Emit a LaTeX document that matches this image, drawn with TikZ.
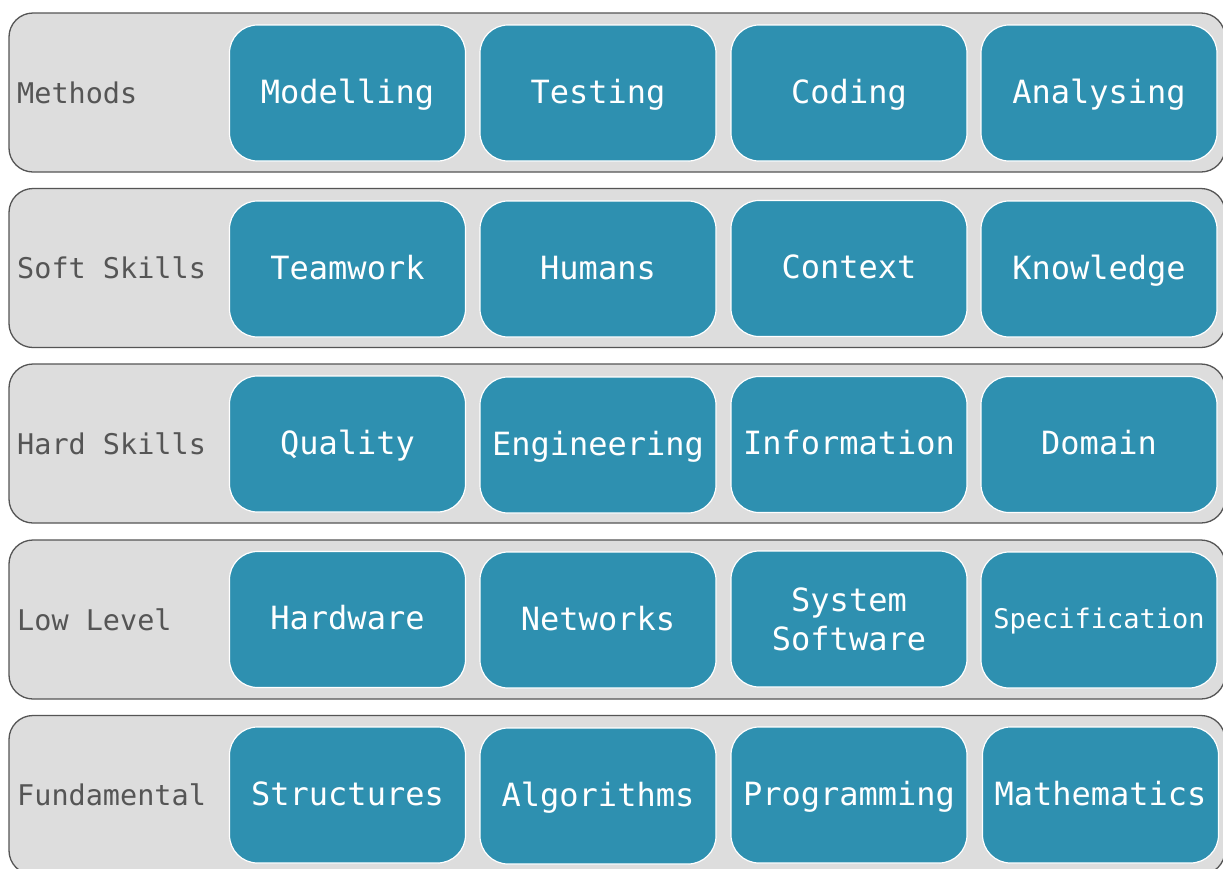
\documentclass[tikz,border=0pt]{standalone}
\usepackage{fontspec}
\setmonofont{DejaVu Sans Mono}
\definecolor{rowfill}{HTML}{DDDDDD}
\definecolor{rowline}{HTML}{555555}
\definecolor{cellfill}{HTML}{2E90B0}
\definecolor{labeltext}{HTML}{555555}
\begin{document}
\begin{tikzpicture}[x=1pt,y=-1pt,
  rowbox/.style={draw=rowline, fill=rowfill, line width=1.3pt, rounded corners=24pt,
    minimum width=1216pt, minimum height=159pt, inner sep=0pt},
  cellbase/.style={draw=white, fill=cellfill, line width=1.2pt, rounded corners=28pt,
    minimum width=236pt, minimum height=136pt, inner sep=0pt, text=white, align=center,
    font=\ttfamily\fontsize{32}{39}\selectfont},
  cell/.style={cellbase, text height=24pt, text depth=4pt},
  rowlabel/.style={anchor=west, inner sep=0pt, text=labeltext,
    font=\ttfamily\fontsize{28.5}{34}\selectfont}
]
\fill[white] (0,0) rectangle (1223,868);
\clip (0,0) rectangle (1223,868);
\useasboundingbox (0,0) rectangle (1223,868);

% rows
\node[rowbox] (r1) at (617,92.5) {};
\node[rowbox] (r2) at (617,268) {};
\node[rowbox] (r3) at (617,443.5) {};
\node[rowbox] (r4) at (617,619.5) {};
\node[rowbox] (r5) at (617,795) {};

% labels
\node[rowlabel] (l1) at (17,92.5) {Methods};
\node[rowlabel] (l2) at (17,268) {Soft Skills};
\node[rowlabel] (l3) at (17,443.5) {Hard Skills};
\node[rowlabel] (l4) at (17,619.5) {Low Level};
\node[rowlabel] (l5) at (17,795) {Fundamental};

% row 1
\node[cell] (c11) at (347.5,93) {Modelling};
\node[cell] (c12) at (598,93) {Testing};
\node[cell] (c13) at (849,93) {Coding};
\node[cell] (c14) at (1099,93) {Analysing};
% row 2
\node[cell] (c21) at (347.5,269) {Teamwork};
\node[cell] (c22) at (598,269) {Humans};
\node[cell] (c23) at (849,268.5) {Context};
\node[cell] (c24) at (1099,269) {Knowledge};
% row 3
\node[cell] (c31) at (347.5,444) {Quality};
\node[cell] (c32) at (598,445) {Engineering};
\node[cell] (c33) at (849,444.5) {Information};
\node[cell] (c34) at (1099,444.5) {Domain};
% row 4
\node[cell] (c41) at (347.5,619.5) {Hardware};
\node[cell] (c42) at (598,620) {Networks};
\node[cellbase] (c43) at (849,619) {System\\Software};
\node[cell, font=\ttfamily\fontsize{27}{32}\selectfont, text height=20pt, text depth=3pt] (c44) at (1099,620) {Specification};
% row 5
\node[cell] (c51) at (347.5,795) {Structures};
\node[cell] (c52) at (598,796) {Algorithms};
\node[cell] (c53) at (849,795) {Programming};
\node[cell] (c54) at (1100.5,795) {Mathematics};
\end{tikzpicture}
\end{document}
